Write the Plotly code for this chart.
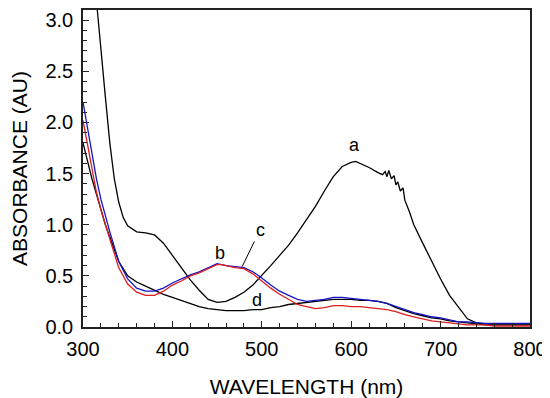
import plotly.graph_objects as go

# ---- data ----
wl_a = [300, 310, 316, 320, 325, 330, 335, 340, 345, 350, 360, 370, 380, 390, 400,
        410, 420, 430, 440, 450, 460, 470, 480, 490, 500, 510, 520, 530, 540, 550,
        560, 570, 580, 590, 600, 605, 610, 620, 630, 635, 638, 640, 642, 645, 648,
        650, 652, 655, 658, 660, 665, 670, 680, 690, 700, 710, 720, 730, 740, 750,
        760, 770, 780, 790, 800]
abs_a = [4.6, 3.6, 3.1, 2.75, 2.25, 1.8, 1.45, 1.22, 1.07, 0.99, 0.93, 0.92, 0.90, 0.82, 0.70,
         0.57, 0.46, 0.36, 0.27, 0.24, 0.25, 0.29, 0.34, 0.41, 0.50, 0.60, 0.70, 0.80, 0.92, 1.05,
         1.18, 1.33, 1.47, 1.57, 1.61, 1.62, 1.60, 1.56, 1.51, 1.49, 1.52, 1.47, 1.53, 1.45, 1.48,
         1.39, 1.42, 1.33, 1.36, 1.24, 1.13, 1.00, 0.82, 0.64, 0.47, 0.31, 0.19, 0.08, 0.04, 0.03,
         0.03, 0.03, 0.03, 0.03, 0.03]

wl = [300, 305, 310, 315, 320, 325, 330, 340, 350, 360, 370, 380, 390, 400, 410,
      420, 430, 440, 450, 455, 460, 470, 480, 490, 500, 510, 520, 530, 540, 550,
      560, 570, 580, 590, 600, 610, 620, 630, 640, 650, 660, 670, 680, 690, 700,
      710, 720, 730, 740, 750, 760, 770, 780, 790, 800]
abs_b = [2.02, 1.78, 1.55, 1.32, 1.15, 1.00, 0.86, 0.58, 0.42, 0.34, 0.31, 0.31, 0.35, 0.41, 0.45,
         0.50, 0.53, 0.57, 0.61, 0.61, 0.60, 0.58, 0.57, 0.52, 0.45, 0.38, 0.32, 0.27, 0.22, 0.20,
         0.18, 0.19, 0.21, 0.21, 0.20, 0.20, 0.19, 0.18, 0.17, 0.15, 0.12, 0.10, 0.08, 0.06, 0.05,
         0.04, 0.03, 0.02, 0.02, 0.02, 0.01, 0.01, 0.01, 0.01, 0.01]
abs_c = [2.20, 1.95, 1.70, 1.45, 1.25, 1.08, 0.93, 0.64, 0.47, 0.38, 0.35, 0.35, 0.38, 0.43, 0.47,
         0.51, 0.54, 0.58, 0.62, 0.61, 0.60, 0.59, 0.58, 0.54, 0.48, 0.41, 0.35, 0.31, 0.27, 0.25,
         0.26, 0.27, 0.29, 0.29, 0.28, 0.27, 0.26, 0.25, 0.23, 0.20, 0.17, 0.14, 0.12, 0.10, 0.09,
         0.07, 0.05, 0.05, 0.04, 0.035, 0.035, 0.035, 0.035, 0.035, 0.035]
abs_d = [1.80, 1.62, 1.45, 1.30, 1.15, 1.00, 0.88, 0.64, 0.50, 0.44, 0.40, 0.36, 0.32, 0.29, 0.26,
         0.23, 0.20, 0.18, 0.17, 0.165, 0.16, 0.16, 0.16, 0.17, 0.17, 0.19, 0.20, 0.22, 0.23, 0.24,
         0.25, 0.26, 0.27, 0.27, 0.27, 0.26, 0.26, 0.25, 0.23, 0.19, 0.16, 0.13, 0.11, 0.09, 0.08,
         0.06, 0.05, 0.04, 0.03, 0.02, 0.02, 0.02, 0.02, 0.02, 0.02]

labels = ["a", "b", "c", "d"]
label_x = [604, 453, 498, 495]
label_y = [1.78, 0.72, 0.95, 0.26]

FONT = "Liberation Sans, Arial, sans-serif"

fig = go.Figure()
fig.add_trace(go.Scatter(x=wl_a, y=abs_a, mode="lines", line=dict(color="black", width=1.3)))
fig.add_trace(go.Scatter(x=wl, y=abs_d, mode="lines", line=dict(color="black", width=1.3)))
fig.add_trace(go.Scatter(x=wl, y=abs_c, mode="lines", line=dict(color="rgb(20,20,200)", width=1.3)))
fig.add_trace(go.Scatter(x=wl, y=abs_b, mode="lines", line=dict(color="rgb(220,30,30)", width=1.3)))

for i, t in enumerate(labels):
    if t == "c":
        fig.add_annotation(x=478, y=0.59, xref="x", yref="y", text=t, showarrow=True,
                           arrowhead=0, arrowwidth=1, arrowcolor="black",
                           ax=label_x[i], ay=label_y[i], axref="x", ayref="y",
                           font=dict(size=18, color="black", family=FONT))
    else:
        fig.add_annotation(x=label_x[i], y=label_y[i], xref="x", yref="y", text=t,
                           showarrow=False, font=dict(size=18, color="black", family=FONT))

axis_common = dict(showline=True, mirror=True, linecolor="#222", linewidth=1.5,
                   ticks="inside", tickcolor="#222", tickwidth=1, showgrid=False,
                   zeroline=False, automargin=False,
                   tickfont=dict(size=20, color="black", family=FONT))

fig.update_xaxes(range=[300, 800], dtick=100, ticklen=6,
                 minor=dict(dtick=20, ticks="inside", ticklen=4, tickcolor="#222"),
                 title=dict(text="WAVELENGTH (nm)", font=dict(size=21, color="black", family=FONT), standoff=22),
                 ticklabelstandoff=3,
                 **axis_common)
fig.update_yaxes(range=[0, 3.1], dtick=0.5, tickformat=".1f", ticklen=6,
                 minor=dict(dtick=0.1, ticks="inside", ticklen=4, tickcolor="#222"),
                 title=dict(text="ABSORBANCE (AU)", font=dict(size=21, color="black", family=FONT), standoff=15),
                 ticklabelstandoff=4,
                 **axis_common)

# page body has an 8px default margin; size/margins compensate so the plot box lands at 83..530 x 10..327
fig.update_layout(width=542, height=390, margin=dict(l=75, r=20, t=2, b=71),
                  paper_bgcolor="white", plot_bgcolor="white", showlegend=False)

fig.write_html("out.html")
